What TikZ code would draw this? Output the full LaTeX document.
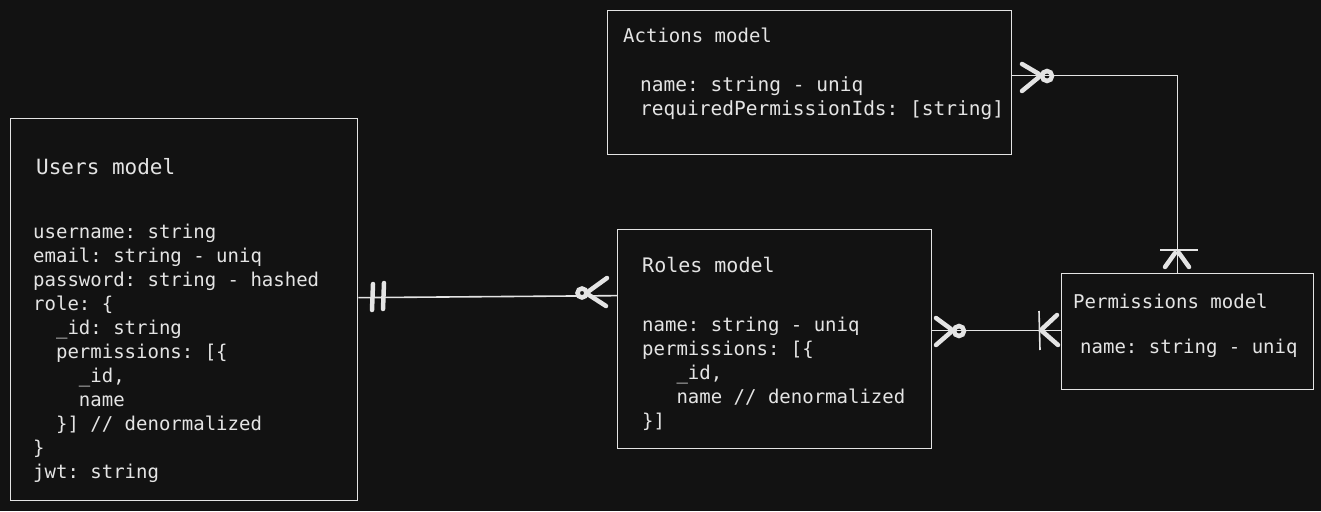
\documentclass[tikz,border=0pt]{standalone}
\usepackage{fontspec}
\setmonofont{DejaVu Sans Mono}
\usepackage{tikz}
\usetikzlibrary{positioning}
\usepackage{color}
\definecolor{bgDark}  {HTML}{121212}
\definecolor{inkLight}{HTML}{E4E4E4}

\begin{document}
\begin{tikzpicture}
[x = 1pt, y = -1pt,
  model/.style = { draw = inkLight, line width = 1.3pt, anchor = north west, inner sep = 0pt },
  txt/.style   = { text = inkLight, anchor = base west, align = left, inner sep = 0pt,
                   font = \fontsize{19}{24}\selectfont\ttfamily },
  link/.style  = { draw = inkLight, line width = 1.6pt },
  foot/.style  = { draw = inkLight, line width = 4.5pt, line cap = round },
  ring/.style  = { draw = inkLight, line width = 4.5pt }
]

% Background:
\fill[bgDark] (0,0) rectangle (1321,511);
\useasboundingbox (0,0) rectangle (1321,511);

% Model boxes:
\node[model, minimum width = 347pt, minimum height = 382pt] (users)   at (10,118)  {};
\node[model, minimum width = 404pt, minimum height = 144pt] (actions) at (607,10)  {};
\node[model, minimum width = 314pt, minimum height = 219pt] (roles)   at (617,229) {};
\node[model, minimum width = 252pt, minimum height = 116pt] (perms)   at (1061,273) {};

% Users model (base = last line):
\node[txt, font = \fontsize{21}{24}\selectfont\ttfamily] (usersTitle) at (36,174) {Users model};
\node[txt] (usersBody) at (33,478)
{
username: string\\
email: string - uniq\\
password: string - hashed\\
role: \{\\
\phantom{xx}\_id: string\\
\phantom{xx}permissions: [\{\\
\phantom{xxxx}\_id,\\
\phantom{xxxx}name\\
\phantom{xx}\}] // denormalized\\
\}\\
jwt: string
};

% Actions model:
\node[txt] (actionsTitle) at (623,43) {Actions model};
\node[txt, font = \fontsize{19.5}{24}\selectfont\ttfamily] (actionsBody) at (640,115)
{
name: string - uniq\\
requiredPermissionIds: [string]
};

% Roles model:
\node[txt, font = \fontsize{20}{24}\selectfont\ttfamily] (rolesTitle) at (642,272) {Roles model};
\node[txt] (rolesBody) at (642,427)
{
name: string - uniq\\
permissions: [\{\\
\phantom{xxx}\_id,\\
\phantom{xxx}name // denormalized\\
\}]
};

% Permissions model:
\node[txt] (permsTitle) at (1073,308) {Permissions model};
\node[txt] (permsBody)  at (1080,353) {name: string - uniq};

% Users -- Roles:
\draw[link] ([yshift=12pt]users.east) -- ([yshift=43.5pt]roles.west);
\draw[foot] (373,284) -- (372,310);
\draw[foot] (384,283) -- (383,309);
\draw[ring] (582,293) circle (4.5);
\draw[foot] (589,291) -- (607,278);
\draw[foot] (589,295) -- (606,306);

% Roles -- Permissions:
\draw[link] ([yshift=8.5pt]roles.east) -- ([yshift=1pt]perms.west);
\draw[foot] (936,318) -- (951,329);
\draw[foot] (936,345) -- (951,332);
\draw[ring] (959,331) circle (5);
\draw[link] (1039,311) -- (1040,350);
\draw[foot] (1042,329) -- (1057,315);
\draw[foot] (1042,331) -- (1058,345);

% Actions -- Permissions:
\draw[link] ([yshift=7pt]actions.east) -| ([xshift=-10pt]perms.north);
\draw[foot] (1022,64) -- (1039,74);
\draw[foot] (1022,91) -- (1039,77);
\draw[ring] (1047,76) circle (5);
\draw[link] (1160,250) -- (1198,250);
\draw[foot] (1165,267) -- (1175,253);
\draw[foot] (1189,267) -- (1179,253);
\end{tikzpicture}
\end{document}
